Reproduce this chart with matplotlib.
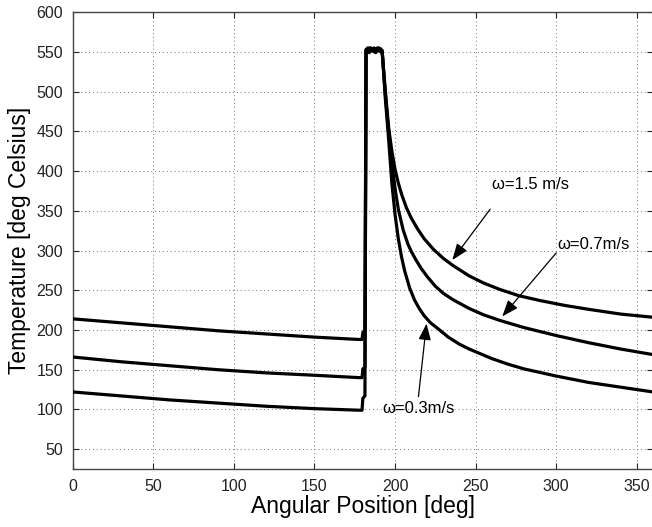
import matplotlib
matplotlib.use("Agg")
import matplotlib.pyplot as plt

plt.rcParams['font.family'] = ['Liberation Sans', 'DejaVu Sans']

# ---- data ----
angle_high = [0, 30, 60, 90, 120, 150, 178, 179.5, 180, 181.3, 182, 183, 184, 185, 186, 187, 188, 189, 190, 191, 192,
              194, 196, 198, 200, 202, 204, 207, 210, 214, 218, 224, 230, 236, 246, 255, 265, 277, 290, 305, 320,
              340, 360]
temp_high = [214, 209, 204, 199, 195, 191, 188, 188, 197, 199, 552, 555, 549, 554, 551, 555, 550, 554, 552, 553, 549,
             500, 455, 425, 402, 385, 371, 354, 341, 327, 315, 301, 290, 281, 268, 259, 251, 243, 237, 231, 226,
             220, 216]

angle_mid = [0, 30, 60, 90, 120, 150, 178, 179.5, 180, 181.3, 182, 183, 184, 185, 186, 187, 188, 189, 190, 191, 192,
             194, 196, 198, 200, 202, 205, 208, 210, 213, 216, 220, 225, 230, 236, 246, 255, 265, 280, 300, 320,
             340, 360]
temp_mid = [166, 160, 155, 150, 146, 143, 140, 140, 151, 153, 551, 554, 550, 555, 552, 553, 549, 555, 551, 554, 550,
            495, 450, 410, 378, 352, 326, 308, 299, 288, 278, 267, 255, 246, 238, 227, 219, 212, 203, 193, 184,
            176, 169]

angle_low = [0, 30, 60, 90, 120, 150, 178, 179.5, 180, 181.3, 182, 183, 184, 185, 186, 187, 188, 189, 190, 191, 192,
             194, 196, 198, 200, 202, 204, 206, 209, 212, 215, 218, 222, 227, 233, 240, 246, 253, 260, 270, 280,
             300, 320, 340, 360]
temp_low = [122, 117, 112, 108, 104, 101, 99, 99, 114, 117, 553, 550, 555, 551, 554, 550, 554, 552, 555, 550, 552,
            490, 440, 385, 345, 315, 292, 274, 253, 238, 227, 218, 209, 201, 191, 182, 176, 170, 164, 157, 151,
            142, 134, 128, 122]

labels = ['\u03c9=1.5 m/s', '\u03c9=0.7m/s', '\u03c9=0.3m/s']
label_pos = [(260, 383), (300.5, 308), (192, 101)]
arrow_start = [(259, 352), (300, 297), (214.5, 116)]
arrow_tip = [(235.5, 288), (266.5, 217), (219.5, 208)]

xticks = [0, 50, 100, 150, 200, 250, 300, 350]
yticks = [50, 100, 150, 200, 250, 300, 350, 400, 450, 500, 550, 600]

# ---- figure ----
fig = plt.figure(figsize=(6.52, 5.27), dpi=100)
ax = fig.add_axes([0.1115, 0.110, 0.890, 0.867])

for xs, ys in [(angle_high, temp_high), (angle_mid, temp_mid), (angle_low, temp_low)]:
    ax.plot(xs, ys, color='black', lw=2.3, solid_joinstyle='round', zorder=3)

for lab, (tx, ty), (sx, sy), (hx, hy) in zip(labels, label_pos, arrow_start, arrow_tip):
    ax.text(tx, ty, lab, fontsize=12, ha='left', va='center', color='black', zorder=4)
    ax.annotate('', xy=(hx, hy), xytext=(sx, sy),
                arrowprops=dict(arrowstyle='-|>,head_length=1.0,head_width=0.38',
                                lw=0.9, color='black', shrinkA=0, shrinkB=0),
                zorder=4)

ax.set_xlim(0, 360)
ax.set_ylim(25, 600)
ax.set_xticks(xticks)
ax.set_yticks(yticks)
ax.tick_params(direction='in', top=True, right=True, length=4, width=0.8,
               labelsize=11.5, colors='#222222', pad=7)
ax.grid(True, color='#777777', linestyle=(0, (1, 3)), linewidth=0.7)
for s in ax.spines.values():
    s.set_color('#444444')
    s.set_linewidth(1.0)

ax.set_xlabel('Angular Position [deg]', fontsize=16.5, labelpad=1)
ax.set_ylabel('Temperature [deg Celsius]', fontsize=16.5, labelpad=4)

fig.savefig('out.png', dpi=100)
